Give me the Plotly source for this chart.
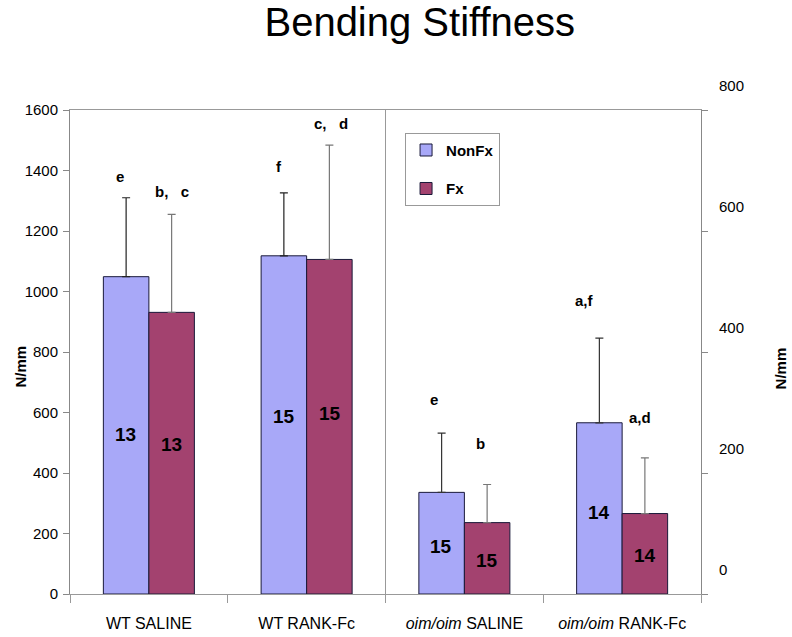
import plotly.graph_objects as go

# ---- data ----
wt_groups = ["WT SALINE", "WT RANK-Fc"]
oim_groups = ["<i>oim/oim</i> SALINE", "<i>oim/oim</i> RANK-Fc"]
categories = wt_groups + oim_groups

# WT values (left axis, N/mm)
wt_nonfx = [1049, 1118]
wt_nonfx_err = [261, 208]
wt_fx = [931, 1106]
wt_fx_err = [324, 378]

# oim/oim values (right axis, N/mm)
oim_nonfx = [168, 283]
oim_nonfx_err = [98, 140]
oim_fx = [118, 133]
oim_fx_err = [63, 92]

# sample sizes shown inside bars
wt_nonfx_n = ["13", "15"]
wt_fx_n = ["13", "15"]
oim_nonfx_n = ["15", "14"]
oim_fx_n = ["15", "14"]

# significance letters
wt_nonfx_sig = ["e", "f"]
wt_fx_sig = ["b,   c", "c,   d"]
oim_nonfx_sig = ["e", "a,f"]
oim_fx_sig = ["b", "a,d"]

left_ticks = [0, 200, 400, 600, 800, 1000, 1200, 1400, 1600]
right_ticks = [0, 200, 400, 600, 800]

C_NON = "#A8A8F8"
C_FX = "#A3426F"
FONT = "Liberation Sans, Arial, sans-serif"

fig = go.Figure()

def add_bar(x, y, err, name, color, ecolor, yaxis, show, group):
    fig.add_trace(go.Bar(
        x=x, y=y, name=name, yaxis=yaxis, showlegend=show, legendgroup=group,
        offsetgroup=group,
        marker=dict(color=color, line=dict(color="#1a1a3a", width=1)),
        error_y=dict(type="data", symmetric=False, array=err,
                     arrayminus=[0] * len(err), color=ecolor,
                     thickness=1.2, width=4),
    ))

add_bar(wt_groups, wt_nonfx, wt_nonfx_err, "NonFx", C_NON, "#222222", "y", True, "a")
add_bar(wt_groups, wt_fx, wt_fx_err, "Fx", C_FX, "#777777", "y", True, "b")
add_bar(oim_groups, oim_nonfx, oim_nonfx_err, "NonFx", C_NON, "#333333", "y2", False, "a")
add_bar(oim_groups, oim_fx, oim_fx_err, "Fx", C_FX, "#777777", "y2", False, "b")

# annotation positions (data units on each axis)
wt_nonfx_n_y = [526, 588]
wt_fx_n_y = [495, 597]
oim_nonfx_n_y = [79, 135]
oim_fx_n_y = [56, 64]
wt_nonfx_sig_y = [1379, 1413]
wt_fx_sig_y = [1330, 1556]
oim_nonfx_sig_y = [322, 485]
oim_fx_sig_y = [249, 291]

annots = []
OFF = 23
def lab(xs, ys, texts, yref, shift, size, dx=None):
    for i, (x, y, t) in enumerate(zip(xs, ys, texts)):
        annots.append(dict(x=x, y=y, xref="x", yref=yref, text="<b>%s</b>" % t,
                           showarrow=False, xshift=shift + (dx[i] if dx else 0),
                           font=dict(family=FONT, size=size, color="black")))

lab(wt_groups, wt_nonfx_n_y, wt_nonfx_n, "y", -OFF, 19)
lab(wt_groups, wt_fx_n_y, wt_fx_n, "y", OFF, 19)
lab(oim_groups, oim_nonfx_n_y, oim_nonfx_n, "y2", -OFF, 19)
lab(oim_groups, oim_fx_n_y, oim_fx_n, "y2", OFF, 19)
lab(wt_groups, wt_nonfx_sig_y, wt_nonfx_sig, "y", -OFF, 15, [-6, -5])
lab(wt_groups, wt_fx_sig_y, wt_fx_sig, "y", OFF, 15, [0, 1])
lab(oim_groups, oim_nonfx_sig_y, oim_nonfx_sig, "y2", -OFF, 15, [-7, -15])
lab(oim_groups, oim_fx_sig_y, oim_fx_sig, "y2", OFF, 15, [-7, -5])

# axis titles
annots.append(dict(x=0, xref="paper", xshift=-49, xanchor="center", y=0.47, yref="paper",
                   text="<b>N/mm</b>", textangle=-90, showarrow=False,
                   font=dict(family=FONT, size=15, color="black")))
annots.append(dict(x=1, xref="paper", xshift=79, xanchor="center", y=0.466, yref="paper",
                   text="<b>N/mm</b>", textangle=-90, showarrow=False,
                   font=dict(family=FONT, size=15, color="black")))

fig.update_layout(
    width=792, height=637,
    margin=dict(l=70, r=91, t=110, b=43, autoexpand=False),
    paper_bgcolor="white", plot_bgcolor="white",
    font=dict(family=FONT, color="black"),
    title=dict(text="Bending Stiffness", x=0.53, xanchor="center", y=0.965,
               yref="container", yanchor="middle",
               font=dict(family=FONT, size=40, color="black")),
    barmode="group", bargap=0.423, bargroupgap=0,
    legend=dict(x=0.531, y=0.953, xanchor="left", yanchor="top",
                bordercolor="#999999", borderwidth=1, bgcolor="white",
                font=dict(family=FONT, size=15, color="black", weight="bold"),
                tracegroupgap=16, traceorder="grouped",
                itemwidth=30),
    annotations=annots,
    shapes=[dict(type="line", xref="paper", yref="paper", x0=0.5, x1=0.5, y0=0, y1=1,
                 line=dict(color="#999999", width=1))],
    xaxis=dict(categoryorder="array", categoryarray=categories, automargin=False,
               showline=True, linecolor="#999999", mirror=True,
               ticks="outside", tickson="boundaries", ticklen=8, tickcolor="#999999",
               ticklabelstandoff=15,
               tickfont=dict(family=FONT, size=16, color="black"),
               showgrid=False, zeroline=False),
    yaxis=dict(range=[0, 1600], tickvals=left_ticks, ticks="outside", ticklen=6,
               tickcolor="#888888", showline=True, linecolor="#888888", automargin=False,
               showgrid=False, zeroline=False, ticklabelstandoff=2,
               tickfont=dict(family=FONT, size=15, color="black")),
    yaxis2=dict(range=[0, 800], tickvals=right_ticks, overlaying="y", side="right",
                ticks="outside", ticklen=6, tickcolor="#888888", automargin=False,
                showline=True, linecolor="#888888", showgrid=False, zeroline=False,
                ticklabelshift=-24, ticklabelstandoff=8,
                tickfont=dict(family=FONT, size=15, color="black")),
)

fig.write_html("out.html", config={"displayModeBar": False},
               post_script="document.body.style.margin='0';document.body.style.overflow='hidden';")
